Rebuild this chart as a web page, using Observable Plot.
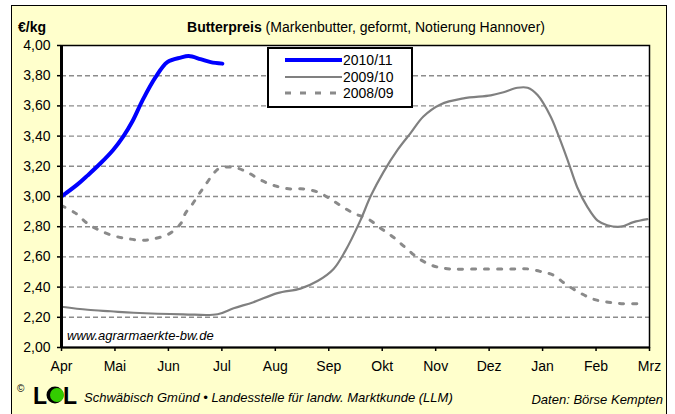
<!DOCTYPE html>
<html><head><meta charset="utf-8">
<script src="https://cdn.jsdelivr.net/npm/d3@7"></script>
<script src="https://cdn.jsdelivr.net/npm/@observablehq/plot@0.6"></script>
<style>
html,body{margin:0;padding:0;background:#fff;}
#wrap{position:relative;width:675px;height:414px;overflow:hidden;font-family:"Liberation Sans",Arial,sans-serif;}
#panel{position:absolute;left:11px;top:5px;width:656px;height:430px;background:#FFFFCC;border:1.5px solid #000;box-sizing:border-box;}
#wrap svg{position:absolute;left:0;top:0;}
</style>
</head><body>
<div id="wrap"><div id="panel"></div></div>
<script>
// month labels (x = 0 is start of April, 11 = March)
const monthLabels = ["Apr","Mai","Jun","Jul","Aug","Sep","Okt","Nov","Dez","Jan","Feb","Mrz"];
const yTicks = [2.0, 2.2, 2.4, 2.6, 2.8, 3.0, 3.2, 3.4, 3.6, 3.8, 4.0];
const gridValues = [2.2, 2.4, 2.6, 2.8, 3.0, 3.2, 3.4, 3.6, 3.8];

// 2010/11
const x2010 = [0, 0.30, 0.49, 0.73, 0.97, 1.16, 1.33, 1.52, 1.76, 1.98, 2.23, 2.38, 2.60, 2.79, 3.01];
const y2010 = [3.00, 3.08, 3.14, 3.22, 3.31, 3.40, 3.50, 3.64, 3.79, 3.89, 3.92, 3.93, 3.91, 3.89, 3.88];

// 2009/10
const x2009 = [0, 0.49, 0.92, 1.35, 2.28, 2.92, 3.22, 3.59, 4.04, 4.47, 4.79, 5.09, 5.31, 5.59, 5.78, 6.02, 6.29, 6.53, 6.77, 7.09, 7.52, 8.03, 8.27, 8.53, 8.72, 8.91, 9.15, 9.28, 9.47, 9.65, 9.84, 10.03, 10.21, 10.46, 10.70, 10.96];
const y2009 = [2.27, 2.25, 2.24, 2.23, 2.22, 2.22, 2.26, 2.30, 2.36, 2.39, 2.44, 2.52, 2.64, 2.84, 3.00, 3.16, 3.31, 3.42, 3.53, 3.61, 3.65, 3.67, 3.69, 3.72, 3.72, 3.67, 3.53, 3.42, 3.24, 3.06, 2.93, 2.84, 2.81, 2.80, 2.83, 2.85];

// 2008/09
const x2008 = [0, 0.26, 0.49, 0.69, 0.97, 1.25, 1.52, 1.72, 2.00, 2.23, 2.32, 2.45, 2.56, 2.68, 2.84, 2.97, 3.26, 3.48, 3.72, 4.00, 4.28, 4.53, 4.79, 5.00, 5.22, 5.46, 5.74, 5.97, 6.21, 6.44, 6.68, 6.96, 7.28, 7.84, 8.46, 8.74, 9.00, 9.20, 9.43, 9.71, 9.95, 10.23, 10.51, 10.83];
const y2008 = [2.94, 2.89, 2.82, 2.78, 2.74, 2.72, 2.71, 2.72, 2.75, 2.82, 2.89, 2.95, 3.01, 3.07, 3.15, 3.19, 3.19, 3.16, 3.11, 3.07, 3.05, 3.05, 3.03, 2.99, 2.94, 2.89, 2.85, 2.79, 2.73, 2.66, 2.59, 2.54, 2.52, 2.52, 2.52, 2.52, 2.50, 2.48, 2.42, 2.36, 2.32, 2.30, 2.29, 2.29];

const series = [
  {name: "2010/11", xs: x2010, ys: y2010, color: "#0000FF", width: 4, dash: null},
  {name: "2009/10", xs: x2009, ys: y2009, color: "#808080", width: 2.2, dash: null},
  {name: "2008/09", xs: x2008, ys: y2008, color: "#8a8a8a", width: 3, dash: "4,9"}
];
const toRows = s => s.xs.map((x, i) => ({x, y: s.ys[i]}));
const d2010 = toRows(series[0]), d2009 = toRows(series[1]), d2008 = toRows(series[2]);

const chart = Plot.plot({
  width: 675, height: 414,
  marginLeft: 61, marginTop: 45, marginRight: 26, marginBottom: 67,
  style: {background: "transparent", fontFamily: "'Liberation Sans', Arial, sans-serif", fontSize: "14px", color: "#000", overflow: "visible"},
  x: {domain: [0, 11], label: null},
  y: {domain: [2, 4], label: null},
  marks: [
    Plot.frame({fill: "white", stroke: "none"}),
    Plot.ruleY(gridValues, {stroke: "#8c8c8c", strokeWidth: 1.4, strokeDasharray: "5,3"}),
    Plot.line(d2008, {x: "x", y: "y", curve: "catmull-rom", stroke: series[2].color, strokeWidth: series[2].width, strokeDasharray: series[2].dash}),
    Plot.line(d2009, {x: "x", y: "y", curve: "catmull-rom", stroke: series[1].color, strokeWidth: series[1].width}),
    Plot.line(d2010, {x: "x", y: "y", curve: "catmull-rom", stroke: series[0].color, strokeWidth: series[0].width}),
    Plot.frame({stroke: "#000", strokeWidth: 1.5}),
    Plot.axisX({ticks: d3.range(12), tickFormat: i => monthLabels[i], tickSize: 4, tickPadding: 10, label: null, strokeWidth: 1.5}),
    Plot.axisY({ticks: yTicks, tickFormat: d => d.toFixed(2).replace(".", ","), tickSize: 4, tickPadding: 7, label: null, strokeWidth: 1.5}),
    Plot.ruleX([0], {stroke: "#000", strokeWidth: 3}),
    Plot.ruleY([2], {stroke: "#000", strokeWidth: 2})
  ]
});
document.getElementById("wrap").appendChild(chart);

// decorations: title, unit, legend, watermark, footer
const ov = d3.select("#wrap").append("svg")
  .attr("width", 675).attr("height", 414)
  .style("font-family", "'Liberation Sans', Arial, sans-serif");

ov.append("text").attr("x", 18).attr("y", 32).attr("font-size", 14).attr("font-weight", "bold").text("€/kg");
const title = ov.append("text").attr("x", 366).attr("y", 32).attr("font-size", 14).attr("text-anchor", "middle");
title.append("tspan").attr("font-weight", "bold").text("Butterpreis");
title.append("tspan").text(" (Markenbutter, geformt, Notierung Hannover)");

// legend
const lg = ov.append("g");
lg.append("rect").attr("x", 268).attr("y", 48).attr("width", 144).attr("height", 59)
  .attr("fill", "white").attr("stroke", "#000").attr("stroke-width", 2);
const legY = [60, 77, 93];
const legDash = [null, null, "6,9"];
series.forEach((s, i) => {
  lg.append("line").attr("x1", 285).attr("x2", 342).attr("y1", legY[i]).attr("y2", legY[i])
    .attr("stroke", s.color).attr("stroke-width", s.width).attr("stroke-dasharray", legDash[i]);
  lg.append("text").attr("x", 343).attr("y", legY[i] + 5).attr("font-size", 14).text(s.name);
});

ov.append("text").attr("x", 67).attr("y", 340).attr("font-size", 13).attr("font-style", "italic").text("www.agrarmaerkte-bw.de");

// footer
ov.append("text").attr("x", 17).attr("y", 392).attr("font-size", 10).text("©");
ov.append("text").attr("x", 33).attr("y", 404).attr("font-size", 23).attr("font-weight", "bold").text("L");
ov.append("circle").attr("cx", 55).attr("cy", 395).attr("r", 8.5).attr("fill", "#000");
ov.append("circle").attr("cx", 57).attr("cy", 395).attr("r", 7).attr("fill", "#33CC00");
ov.append("text").attr("x", 63).attr("y", 404).attr("font-size", 23).attr("font-weight", "bold").text("L");
ov.append("text").attr("x", 84).attr("y", 402).attr("font-size", 13).attr("font-style", "italic")
  .text("Schwäbisch Gmünd • Landesstelle für landw. Marktkunde (LLM)");
ov.append("text").attr("x", 663).attr("y", 404).attr("font-size", 13).attr("font-style", "italic").attr("text-anchor", "end")
  .text("Daten: Börse Kempten");
</script>
</body></html>
